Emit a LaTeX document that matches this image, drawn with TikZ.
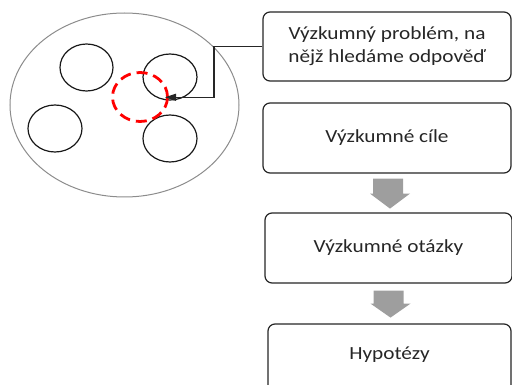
\documentclass[tikz,border=0pt]{standalone}
\usepackage{fontspec}
\setmainfont{Carlito}
\usetikzlibrary{calc,arrows.meta}
\newcommand{\widetext}[1]{\scalebox{1.15}[1]{#1}}
\begin{document}
\begin{tikzpicture}[x=1pt,y=-1pt,
  stagebox/.style={draw=black!85, line width=1.2pt, rounded corners=7pt, fill=white,
    inner sep=0pt, font=\fontsize{18.5}{23}\selectfont, text=black!85, align=center},
  pool/.style={draw=black!45, line width=1pt},
  item/.style={draw=black!90, line width=1.2pt},
  focus/.style={draw=red, line width=2.8pt, dash pattern=on 11pt off 6pt},
  blockarrow/.style={fill=black!38, draw=none},
  label/.style={font=\fontsize{18.5}{23}\selectfont, text=black!85, align=center}]
\useasboundingbox (0,0) rectangle (512,385);

% population of problems
\draw[pool] (124.5,105) ellipse [x radius=114.5, y radius=92];
\draw[item] (86.5,67.5) ellipse [x radius=26.5, y radius=23.5];
\draw[item] (170,77) ellipse [x radius=27, y radius=23];
\draw[item] (55,128.5) ellipse [x radius=27, y radius=23.5];
\draw[item] (170,138.5) ellipse [x radius=27, y radius=23.5];
\draw[focus] (140,97) ellipse [x radius=27.5, y radius=24.5];
\coordinate (target) at (165,97.3);

% stages
\node[stagebox, minimum width=248pt, minimum height=69pt] (problem) at (387,46.5)
  {\widetext{\begin{tabular}{@{}c@{}}Výzkumný problém, na\\nějž hledáme odpověď\end{tabular}}};
\node[stagebox, minimum width=248pt, minimum height=70pt] (goals) at (387,138)
  {\widetext{Výzkumné cíle}};
\node[stagebox, minimum width=247pt, minimum height=70pt] (questions) at (388.5,248)
  {\widetext{Výzkumné otázky}};
\node[stagebox, minimum width=243pt, minimum height=76pt] (hyp) at (389.5,362) {};
\node[label] (hyptext) at ($(hyp.north)+(0,31)$) {\widetext{Hypotézy}};

% pointer from the problem box to the highlighted circle
\draw[black!85, line width=1.1pt, -{Triangle[length=11pt,width=7pt]}]
  (problem.west) -| (214,97.3) -- (target);

% block arrows between stages
\fill[blockarrow] ($(goals.south)+(-14,5)$) -- ++(30,0) -- ++(0,15) -- ++(7,0)
  -- ($(goals.south)+(3,35)$) -- ++(-20,-15) -- ++(3,0) -- cycle;
\fill[blockarrow] ($(questions.south)+(-15,7)$) -- ++(30,0) -- ++(0,13) -- ++(7,0)
  -- ($(questions.south)+(2,34)$) -- ++(-20,-14) -- ++(3,0) -- cycle;
\end{tikzpicture}
\end{document}
